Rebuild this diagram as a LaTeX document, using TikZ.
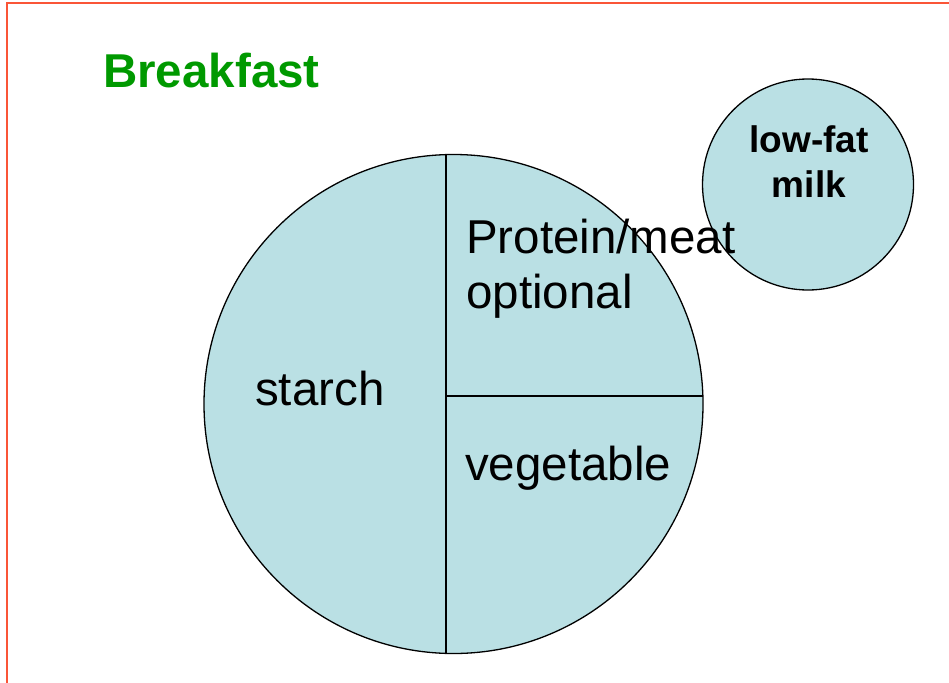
\documentclass[tikz,border=0pt]{standalone}
\usepackage{fontspec}
\setmainfont{Liberation Sans}
\definecolor{plate}{RGB}{186,224,228}
\definecolor{titlegreen}{RGB}{0,153,0}
\definecolor{frame}{RGB}{250,85,55}
\begin{document}
\begin{tikzpicture}[x=1pt,y=-1pt,
  dish/.style={circle,draw=black,fill=plate,inner sep=0pt,line width=1.3pt},
  label/.style={anchor=base west,inner sep=0pt,font=\fontsize{47.5}{54}\selectfont},
  milklabel/.style={align=center,inner sep=0pt,font=\bfseries\fontsize{37}{45}\selectfont}]
\useasboundingbox (0,0) rectangle (949,682);
\clip (0,0) rectangle (949,682);
% page frame
\draw[frame,line width=2.2pt] (7,3) rectangle (970,700);
% title
\node[anchor=base west,inner sep=0pt,text=titlegreen,font=\bfseries\fontsize{47.5}{56}\selectfont] (title) at (103,88) {Breakfast};
% the plate
\node[dish,minimum size=499pt] (plate) at (453.5,404) {};
\coordinate (vtop) at (446,154.6);
\coordinate (vbot) at (446,653.4);
\coordinate (hleft) at (446,396);
\coordinate (hright) at (702.9,396);
\draw[line width=1.3pt] (vtop) -- (vbot);
\draw[line width=1.3pt] (hleft) -- (hright);
% milk glass
\node[dish,minimum size=211pt] (milk) at (808,184.5) {};
% labels
\node[label] (starch) at (255,405) {starch};
\node[label] (protein) at (466,253) {Protein/meat};
\node[label] (optional) at (466,308) {optional};
\node[label] (veg) at (465,480) {vegetable};
\node[milklabel] (milktext) at (809,162) {low-fat\\milk};
\end{tikzpicture}
\end{document}
